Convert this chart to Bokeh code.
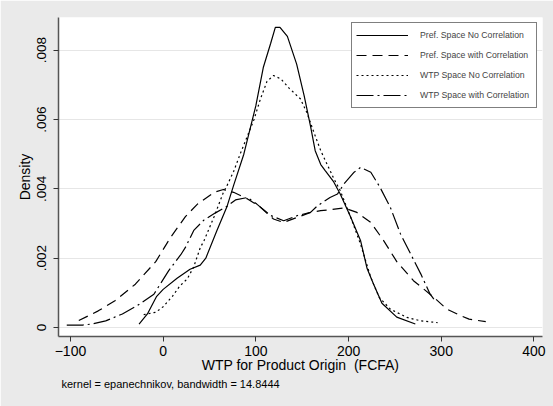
from bokeh.plotting import figure
from bokeh.models import Range1d, FixedTicker, Legend, LegendItem, Title
from bokeh.embed import file_html
from bokeh.resources import INLINE

FONT = "Liberation Sans"

# --- data ---
pref_nocorr_x = [-26, -17, -7, 0, 15, 29, 40, 46, 58, 69, 76, 87, 100, 108, 116, 121, 126, 134,
                 144, 152, 159, 164, 170, 175, 184, 191, 202, 213, 220, 227, 236, 252, 272]
pref_nocorr_y = [0.0001, 0.00039, 0.0009, 0.0011, 0.00142, 0.00168, 0.0018, 0.002, 0.0028, 0.0035,
                 0.0041, 0.0050, 0.0064, 0.0075, 0.0082, 0.00866, 0.00866, 0.0084, 0.0076, 0.0067,
                 0.0058, 0.0051, 0.0047, 0.00452, 0.0042, 0.00385, 0.0032, 0.0025, 0.0017, 0.00125,
                 0.0007, 0.0003, 0.0001]

pref_corr_x = [-91, -70, -52, -30, -8, 8, 24, 37, 55, 65, 76, 91, 105, 119, 130, 145, 159, 170,
               180, 195, 209, 224, 238, 252, 270, 292, 306, 321, 330, 348]
pref_corr_y = [0.0002, 0.00048, 0.00077, 0.00125, 0.0019, 0.0026, 0.0032, 0.00356, 0.0039, 0.00398,
               0.0039, 0.00371, 0.00347, 0.00313, 0.00303, 0.00318, 0.00332, 0.00337, 0.0034,
               0.00345, 0.00332, 0.00303, 0.0025, 0.0019, 0.00135, 0.00087, 0.00053, 0.00034,
               0.00024, 0.00017]

wtp_nocorr_x = [-21, -8, 0, 10, 18, 26, 33, 40, 44, 55, 65, 69, 76, 83, 98, 105, 112, 119, 127,
                136, 148, 155, 163, 170, 184, 191, 202, 213, 224, 233, 245, 263, 278, 296]
wtp_nocorr_y = [0.00037, 0.00044, 0.0006, 0.0009, 0.0012, 0.0014, 0.00175, 0.0023, 0.0025, 0.0032,
                0.0039, 0.0041, 0.0045, 0.0050, 0.0060, 0.0066, 0.0071, 0.00727, 0.00717, 0.0069,
                0.0066, 0.0062, 0.0056, 0.0051, 0.0043, 0.00395, 0.0032, 0.0024, 0.00144, 0.00087,
                0.00053, 0.00029, 0.00019, 0.00014]

wtp_corr_x = [-104, -87, -77, -62, -44, -28, -10, 6, 19, 24, 33, 44, 56, 69, 78, 91, 101, 116,
              130, 145, 159, 166, 180, 188, 195, 206, 213, 224, 234, 245, 256, 267, 278, 288, 292]
wtp_corr_y = [0.00007, 0.00007, 0.0001, 0.00019, 0.00039, 0.00063, 0.00096, 0.00164, 0.0021,
              0.00231, 0.0028, 0.0031, 0.0033, 0.0035, 0.00368, 0.00375, 0.00356, 0.00323, 0.00308,
              0.00323, 0.00332, 0.0035, 0.00375, 0.00385, 0.00414, 0.00448, 0.00462, 0.00448,
              0.00404, 0.00347, 0.0027, 0.00212, 0.00154, 0.00096, 0.00082]

x_ticks = [-100, 0, 100, 200, 300, 400]
y_ticks = [0, 0.002, 0.004, 0.006, 0.008]
y_tick_labels = ["0", ".002", ".004", ".006", ".008"]

series_names = ["Pref. Space No Correlation", "Pref. Space with Correlation",
                "WTP Space No Correlation", "WTP Space with Correlation"]

x_title = "WTP for Product Origin \u00a0(FCFA)"
y_title = "Density"
note = "kernel = epanechnikov, bandwidth = 14.8444"

BG = "#EAEAEA"

p = figure(width=553, height=406, output_backend="svg", toolbar_location=None,
           x_range=Range1d(-112.9, 409.2), y_range=Range1d(-0.00026, 0.008944),
           min_border_left=58, min_border_right=11, min_border_top=17, min_border_bottom=70)
p.background_fill_color = "white"
p.border_fill_color = BG
p.outline_line_color = None

# axes
for ax in (p.xaxis[0], p.yaxis[0]):
    ax.axis_line_color = "#555555"
    ax.axis_line_width = 1.5
    ax.major_tick_line_color = "#333333"
    ax.major_tick_line_width = 1
    ax.major_tick_out = 5
    ax.major_tick_in = 0
    ax.minor_tick_line_color = None
    ax.major_label_text_font = FONT
    ax.major_label_text_font_size = "14px"
    ax.major_label_text_color = "black"
    ax.axis_label_text_font = FONT
    ax.axis_label_text_font_size = "14px"
    ax.axis_label_text_font_style = "normal"
    ax.axis_label_text_color = "black"

p.xaxis.ticker = FixedTicker(ticks=x_ticks)
p.xaxis.axis_label = x_title
p.xaxis.major_label_standoff = 4
p.xaxis.axis_label_standoff = -2

p.yaxis.ticker = FixedTicker(ticks=y_ticks)
p.yaxis.major_label_overrides = {t: l for t, l in zip(y_ticks, y_tick_labels)}
p.yaxis.major_label_orientation = "vertical"
p.yaxis.major_label_text_font_size = "13.5px"
p.yaxis.axis_label = y_title
p.yaxis.major_label_standoff = 7
p.yaxis.axis_label_standoff = 2

p.xgrid.grid_line_color = None
p.ygrid.ticker = FixedTicker(ticks=y_ticks)
p.ygrid.grid_line_color = "#E6E6E6"
p.ygrid.grid_line_width = 1.2

lw = 1.2
r1 = p.line(pref_nocorr_x, pref_nocorr_y, line_color="black", line_width=lw)
r2 = p.line(pref_corr_x, pref_corr_y, line_color="black", line_width=lw, line_dash="10 6")
r3 = p.line(wtp_nocorr_x, wtp_nocorr_y, line_color="black", line_width=lw, line_dash="2 3")
r4 = p.line(wtp_corr_x, wtp_corr_y, line_color="black", line_width=lw, line_dash="17 4 2 4")

legend = Legend(items=[LegendItem(label=n, renderers=[r]) for n, r in
                       zip(series_names, [r1, r2, r3, r4])],
                location="top_right", margin=5, padding=4, spacing=4,
                glyph_width=52, glyph_height=16, label_height=16, label_width=112,
                label_standoff=12,
                label_text_font=FONT, label_text_font_size="8.7px",
                border_line_color="black", border_line_width=1,
                background_fill_color="white", background_fill_alpha=1)
p.add_layout(legend)

note_title = Title(text=note, align="left", offset=3, text_font=FONT, text_font_size="11px",
                   text_font_style="normal", text_color="black", standoff=1)
p.add_layout(note_title, "below")

open("out.html", "w").write(file_html(p, INLINE))
